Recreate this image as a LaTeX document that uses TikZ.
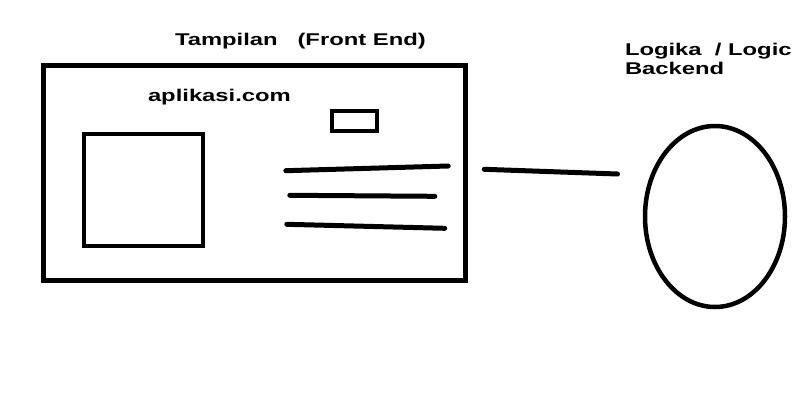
\documentclass[tikz,border=0pt]{standalone}
\usepackage{fontspec}
\setmainfont{Liberation Sans}
\usetikzlibrary{shapes.geometric}
\newcommand{\wtext}[1]{\scalebox{1.4}[1]{\fontsize{17}{19.5}\selectfont\bfseries #1}}
\tikzset{
  frame/.style={draw=black, line width=5pt, rectangle, inner sep=0pt, fill=none},
  thinbox/.style={draw=black, line width=4pt, rectangle, inner sep=0pt},
  oval/.style={draw=black, line width=4.5pt, ellipse, inner sep=0pt},
  label/.style={inner sep=0pt, outer sep=0pt, anchor=base west, text=black},
  scribble/.style={draw=black, line width=5pt, line cap=round},
}
\begin{document}
\begin{tikzpicture}[x=1pt, y=-1pt]
\useasboundingbox[fill=white] (0,0) rectangle (803,418);
% front end screen
\node[frame, minimum width=421.4pt, minimum height=214.4pt] (screen) at (254.5,173) {};
\node[thinbox, minimum width=119.3pt, minimum height=112.6pt] (image) at (143.35,190) {};
\node[thinbox, minimum width=45.3pt, minimum height=19.7pt] (button) at (354.65,120.85) {};
% text lines
\coordinate (l1a) at (285.8,170.7); \coordinate (l1b) at (448.2,166);
\coordinate (l2a) at (289.8,195.3); \coordinate (l2b) at (434.8,196.3);
\coordinate (l3a) at (286.8,224.3); \coordinate (l3b) at (444.8,228.3);
\draw[scribble] (l1a) -- (l1b);
\draw[scribble] (l2a) -- (l2b);
\draw[scribble] (l3a) -- (l3b);
% backend
\node[oval, minimum width=140pt, minimum height=181pt] (logic) at (715,216.5) {};
\coordinate (ca) at (484.2,169.3);
\coordinate (cb) at (617.5,174);
\draw[scribble] (ca) -- (cb);
% labels
\node[label] (title) at (175,45) {\wtext{Tampilan~~~(Front End)}};
\node[label] (app) at (148,101) {\wtext{aplikasi.com}};
\node[label] (logictxt) at (625,55) {\wtext{Logika~~/ Logic}};
\node[label] (backtxt) at (625,74.5) {\wtext{Backend}};
\end{tikzpicture}
\end{document}
